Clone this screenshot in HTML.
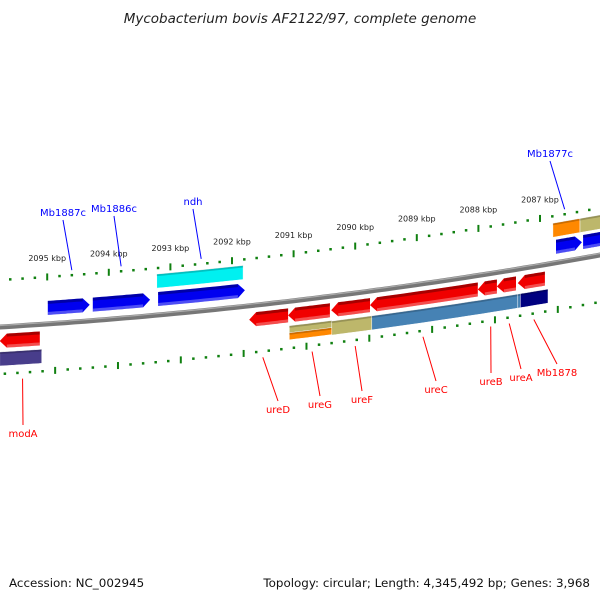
<!DOCTYPE html>
<html><head><meta charset="utf-8">
<style>
html,body{margin:0;padding:0;background:#fff;}
svg{display:block;font-family:"DejaVu Sans","Liberation Sans",sans-serif;}
</style></head>
<body>
<svg id="map" width="600" height="600" viewBox="0 0 600 600" xmlns="http://www.w3.org/2000/svg">
<text x="300" y="23" text-anchor="middle" font-size="13.5" font-style="italic" fill="#222">Mycobacterium bovis AF2122/97, complete genome</text>
<g id="layer"></g>
<text x="9" y="587" font-size="11.9" fill="#111">Accession: NC_002945</text>
<text x="590" y="587" text-anchor="end" font-size="11.9" fill="#111">Topology: circular; Length: 4,345,492 bp; Genes: 3,968</text>
</svg>
<script>
// data arrays
const majorTicks = [2096, 2095, 2094, 2093, 2092, 2091, 2090, 2089, 2088, 2087, 2086];
const tickLabels = ["2096 kbp","2095 kbp","2094 kbp","2093 kbp","2092 kbp","2091 kbp","2090 kbp","2089 kbp","2088 kbp","2087 kbp","2086 kbp"];
const geneStarts = [2094.99, 2094.26, 2093.20, 2086.74, 2086.30, 2095.77, 2091.72, 2091.09, 2090.39, 2089.76, 2088.01, 2087.70, 2087.36];
const geneEnds   = [2094.31, 2093.33, 2091.79, 2086.32, 2085.90, 2095.12, 2091.09, 2090.41, 2089.76, 2088.01, 2087.70, 2087.39, 2086.92];
const geneStrand = [1,1,1,1,1,-1,-1,-1,-1,-1,-1,-1,-1];
const geneNames  = ["Mb1887c-cds","Mb1886c-cds","ndh-cds","Mb1877c-cds","next-cds","modA-cds","ureD-cds","ureG-cds","ureF-cds","ureC-cds","ureB-cds","ureA-cds","Mb1878-cds"];
const catStarts = [2093.22, 2086.79, 2086.35, 2091.07, 2091.07, 2090.38, 2089.73, 2087.36, 2087.32, 2095.77];
const catEnds   = [2091.82, 2086.35, 2085.90, 2090.38, 2090.38, 2089.73, 2087.36, 2086.87, 2086.87, 2095.09];
const catRow    = [-34, -33, -33, 28, 35, 32, 32, 32, 32, 32];
const catHalf   = [7, 7, 7, 3.5, 3.5, 7, 7, 7, 7, 7];
const catColors = ["#00f0f0","#ff8800","#bdb76b","#bdb76b","#ff8800","#bdb76b","#4682b4","#4682b4","#000080","#483d8b"];
const labelNames = ["Mb1887c","Mb1886c","ndh","Mb1877c","modA","ureD","ureG","ureF","ureC","ureB","ureA","Mb1878"];
const labelKbp   = [2094.6, 2093.8, 2092.5, 2086.6, 2095.4, 2091.5, 2090.7, 2090.0, 2088.9, 2087.8, 2087.5, 2087.1];
const labelColor = ["blue","blue","blue","blue","red","red","red","red","red","red","red","red"];
const labelX = [63,114,193,550,23,278,320,362,436,491,521,557];
const labelY = [216,212,205,157,437,413,408,403,393,385,381,376];

const NS="http://www.w3.org/2000/svg";
const layer=document.getElementById('layer');
function xOf(kbp){return 540+(2087-kbp)*61.6;}
function yOf(x){return 327-0.06*x-0.0001*x*x;}
function mk(tag,attrs){const e=document.createElementNS(NS,tag);for(const k in attrs)e.setAttribute(k,attrs[k]);layer.appendChild(e);return e;}
function band(x1,x2,o1,o2){let pts=[];const n=12;for(let i=0;i<=n;i++){const x=x1+(x2-x1)*i/n;pts.push(x.toFixed(1)+','+(yOf(x)+o1).toFixed(1));}for(let i=n;i>=0;i--){const x=x1+(x2-x1)*i/n;pts.push(x.toFixed(1)+','+(yOf(x)+o2).toFixed(1));}return pts.join(' ');}

let bp=[];for(let x=-5;x<=605;x+=10)bp.push(x+','+yOf(x).toFixed(1));
const bb=mk('polyline',{points:bp.join(' '),fill:'none',stroke:'#777','stroke-width':5});


const bb2=mk('polyline',{points:bp.map(p=>{const [a,b]=p.split(',');return a+','+(+b-1.5)}).join(' '),fill:'none',stroke:'#aaa','stroke-width':1.2});



for(let k=0;k<majorTicks.length;k++){
  for(let m=0;m<5;m++){
    const kb=majorTicks[k]-m*0.2;
    const xu=xOf(kb);const xl=xu*1.02+7;
    const len=m===0?7:2.5;
    if(xu>-5&&xu<605){
      const t=mk('line',{x1:xu,y1:yOf(xu)-47-len/2,x2:xu,y2:yOf(xu)-47+len/2,stroke:'#108010','stroke-width':m===0?2:2.5});
      
      
    }
    if(xl>-5&&xl<605){
      const t=mk('line',{x1:xl,y1:yOf(xl)+47-len/2,x2:xl,y2:yOf(xl)+47+len/2,stroke:'#108010','stroke-width':m===0?2:2.5});
      
      
    }
  }
  const xu=xOf(majorTicks[k]);
  if(xu>10&&xu<590){
    const tl=mk('text',{x:xu,y:yOf(xu)-63,'text-anchor':'middle','font-size':8,fill:'#222'});
    tl.textContent=tickLabels[k];
    
    
  }
}

for(let i=0;i<catStarts.length;i++){
  const x1=xOf(catStarts[i]),x2=xOf(catEnds[i]);
  const p=mk('polygon',{points:band(x1,x2,catRow[i]-catHalf[i],catRow[i]+catHalf[i]),fill:catColors[i],stroke:'#fff','stroke-width':0.5});
  
  
  const s=mk('polygon',{points:band(x1,x2,catRow[i]-catHalf[i],catRow[i]-catHalf[i]+2),fill:'#000',opacity:0.2});
  
  
}

for(let i=0;i<geneStarts.length;i++){
  const fwd=geneStrand[i]>0;const off=fwd?-16:14;const h=7;
  let x1=xOf(geneStarts[i]),x2=xOf(geneEnds[i]);
  const a=Math.min(7,(x2-x1)/2);
  let pts=[];
  if(fwd){const xb=x2-a;
    pts=band(x1,xb,off-h,off+h).split(' ');
    const half=pts.length/2;
    pts.splice(half,0,x2.toFixed(1)+','+(yOf(x2)+off).toFixed(1));
  } else {const xb=x1+a;
    pts=band(xb,x2,off-h,off+h).split(' ');
    pts.push(x1.toFixed(1)+','+(yOf(x1)+off).toFixed(1));
  }
  const g=mk('polygon',{points:pts.join(' '),fill:fwd?'#0000f0':'#f00000'});
  
  
  const sx1=fwd?x1:x1+a, sx2=fwd?x2-a:x2;
  const sh=mk('polygon',{points:band(sx1,sx2,off-h,off-h+3),fill:'#000',opacity:0.3});
  
  
  const hl=mk('polygon',{points:band(sx1,sx2,off+h-3,off+h),fill:'#fff',opacity:0.3});
  
  
}

for(let i=0;i<labelNames.length;i++){
  const fx=xOf(labelKbp[i]);
  const up=labelColor[i]==='blue';
  const fy=up?yOf(fx)-52:yOf(fx)+53;
  const ly=up?labelY[i]+4:labelY[i]-12;
  const ln=mk('line',{x1:labelX[i],y1:ly,x2:fx,y2:fy,stroke:labelColor[i],'stroke-width':1});
  
  
  const t=mk('text',{x:labelX[i],y:labelY[i],'text-anchor':'middle','font-size':10,fill:labelColor[i]});
  t.textContent=labelNames[i];
  
  
}
</script>
</body></html>
